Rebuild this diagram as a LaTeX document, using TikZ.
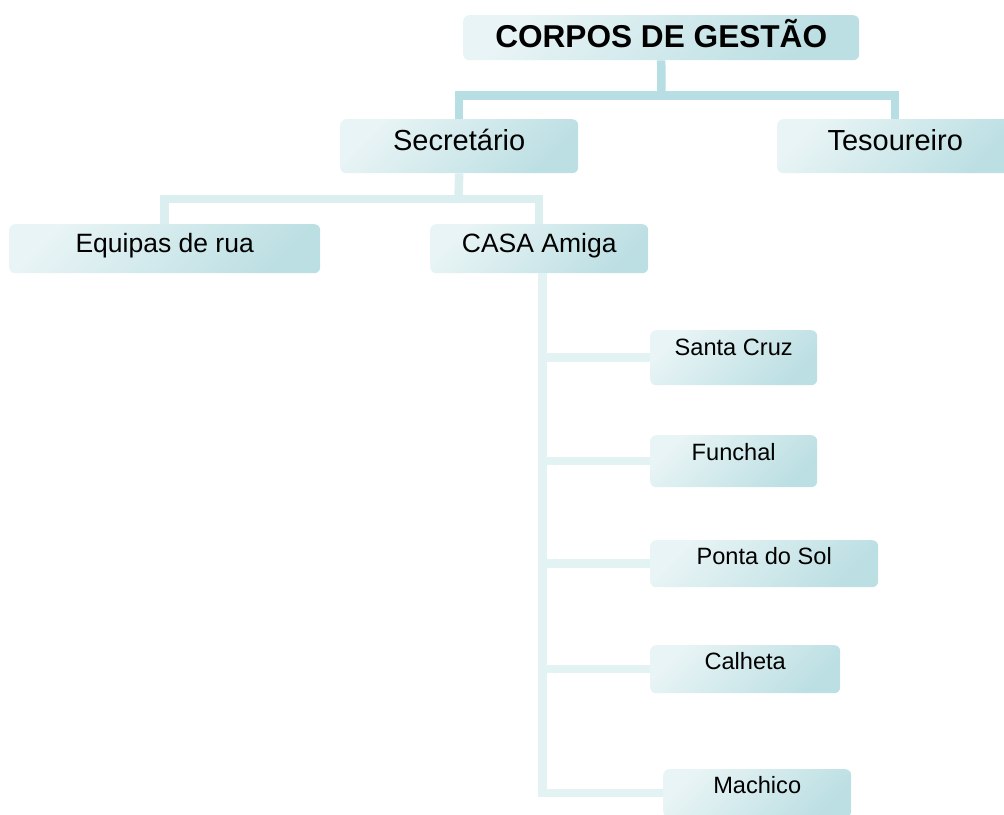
\documentclass[tikz,border=0pt]{standalone}
\usepackage{fontspec}
\setmainfont{Liberation Sans}
\definecolor{boxlt}{RGB}{232,244,245}
\definecolor{boxdk}{RGB}{188,223,227}
\definecolor{linkA}{RGB}{183,222,226}
\definecolor{linkB}{RGB}{220,239,240}
\definecolor{linkC}{RGB}{227,243,243}

\begin{document}
\begin{tikzpicture}[x=1pt, y=-1pt,
  box/.style={rounded corners=6pt, top color=boxlt, bottom color=boxdk, shading angle=45,
    inner sep=0pt, anchor=north west},
  big/.style={font=\fontsize{29}{33}\selectfont},
  mid/.style={font=\fontsize{26.5}{30}\selectfont},
  small/.style={font=\fontsize{23.6}{27}\selectfont},
  link/.style={line width=8.5pt}]
  \useasboundingbox (0,0) rectangle (1004,814);
  \clip (0,0) rectangle (1004,814);
  % top
  \node[box, minimum width=396pt, text height=32pt, text depth=13pt,
    font=\fontsize{31.6}{36}\selectfont\bfseries] (corpos) at (463,15) {CORPOS DE GESTÃO};
  % second row
  \node[box, big, minimum width=238pt, text height=31pt, text depth=23pt] (secr) at (340,119) {Secretário};
  \node[box, big, minimum width=236pt, text height=31pt, text depth=23pt] (tes) at (777,119) {Tesoureiro};
  % third row
  \node[box, mid, minimum width=311pt, text height=28pt, text depth=21pt] (equ) at (9,224) {Equipas de rua};
  \node[box, mid, minimum width=218pt, text height=28pt, text depth=21pt] (casa) at (430,224) {CASA Amiga};
  % CASA Amiga branches
  \node[box, small, minimum width=167pt, text height=25pt, text depth=30pt] (sc) at (650,330) {Santa Cruz};
  \node[box, small, minimum width=167pt, text height=25pt, text depth=27pt] (fun) at (650,435) {Funchal};
  \node[box, small, minimum width=228pt, text height=24pt, text depth=23pt] (ps) at (650,540) {Ponta do Sol};
  \node[box, small, minimum width=190pt, text height=24pt, text depth=24pt] (cal) at (650,645) {Calheta};
  \node[box, small, minimum width=188pt, text height=24pt, text depth=24pt] (mac) at (663,769) {Machico};
  % connectors
  \coordinate (j1) at (661.5,95.5);
  \draw[link, linkA] (corpos.south) -- (j1);
  \draw[link, linkA] (secr.north) |- (j1) -| (tes.north);
  \coordinate (j2) at (458.5,199);
  \draw[link, linkB] (secr.south) -- (j2);
  \draw[link, linkB] (equ.north) |- (j2) -| (casa.north);
  \coordinate (j3) at ([xshift=3.5pt]casa.south);
  \draw[link, linkC] (j3) |- (sc.west);
  \draw[link, linkC] (j3) |- (fun.west);
  \draw[link, linkC] (j3) |- (ps.west);
  \draw[link, linkC] (j3) |- (cal.west);
  \draw[link, linkC] (j3) |- (mac.west);
\end{tikzpicture}
\end{document}
